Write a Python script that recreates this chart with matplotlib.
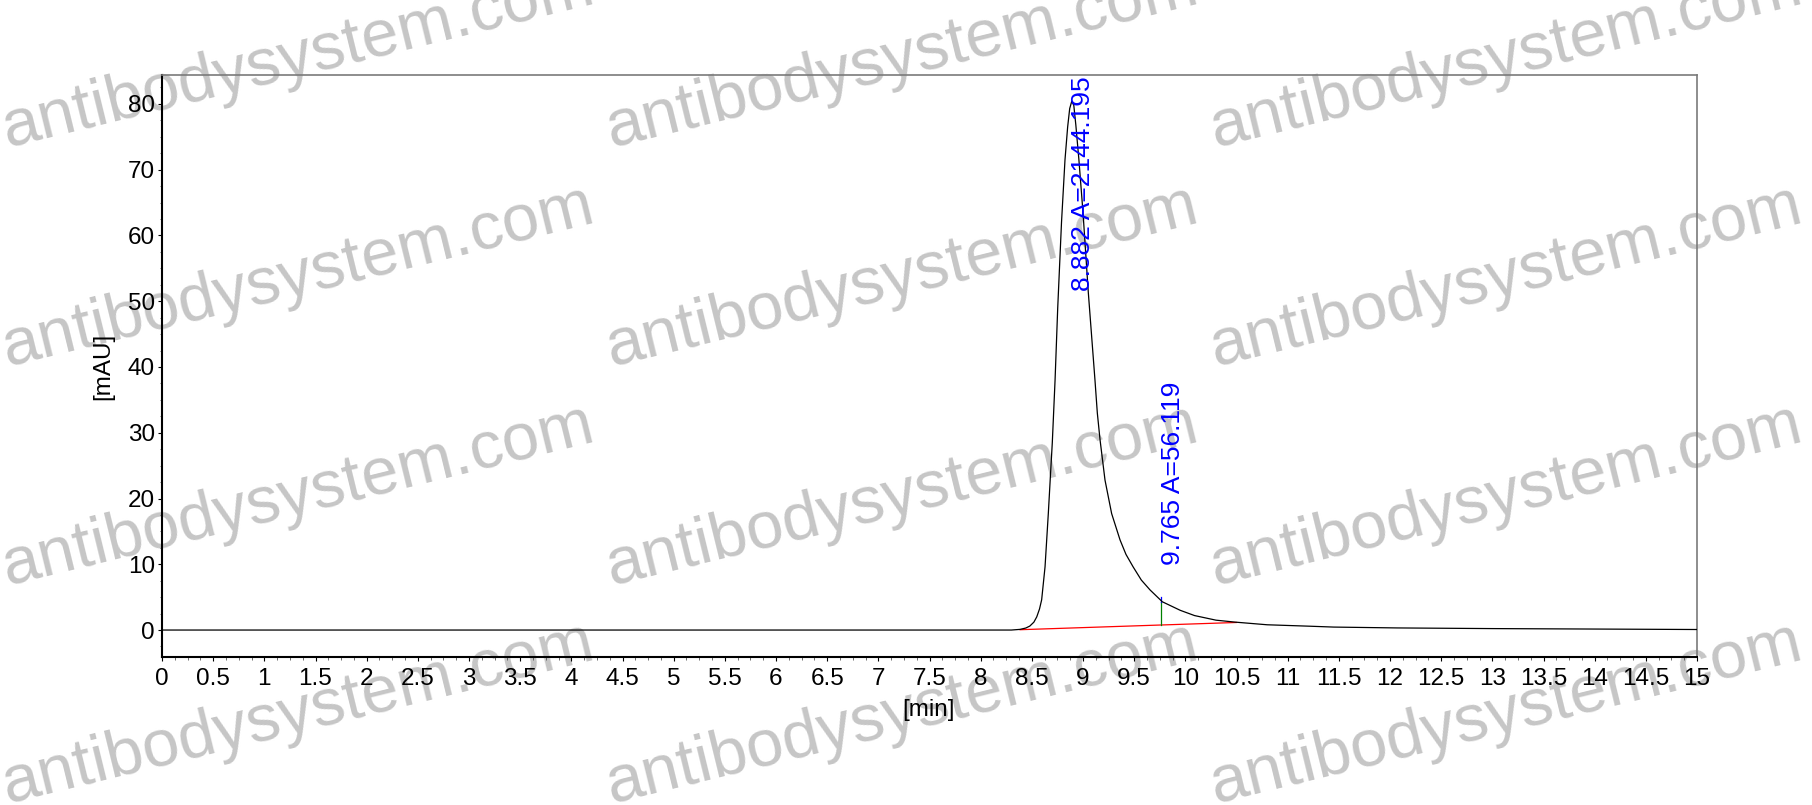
import matplotlib
matplotlib.use("Agg")
import matplotlib.pyplot as plt
from matplotlib.ticker import MultipleLocator, FuncFormatter

plt.rcParams['font.family'] = ['Liberation Sans', 'DejaVu Sans']

# chromatogram trace (time in min, signal in mAU)
time_min = [0.0, 8.30, 8.384, 8.44, 8.48, 8.52, 8.548, 8.575, 8.596, 8.629,
            8.661, 8.68, 8.70, 8.727, 8.753, 8.79, 8.824, 8.85, 8.87, 8.89,
            8.91, 8.93, 8.96, 9.00, 9.052, 9.117, 9.14, 9.166, 9.215, 9.28,
            9.362, 9.42, 9.49, 9.57, 9.655, 9.775, 9.95, 10.09, 10.30, 10.49,
            10.80, 11.22, 11.45, 12.07, 13.0, 14.0, 15.0]
signal_mau = [0.0, 0.0, 0.1, 0.3, 0.6, 1.2, 2.0, 3.2, 4.6, 9.6,
              17.7, 23.0, 28.5, 38.0, 49.0, 62.0, 71.5, 76.5, 79.3, 80.4,
              79.8, 76.8, 71.5, 63.5, 51.3, 38.0, 33.0, 29.0, 22.8, 17.7,
              13.7, 11.5, 9.6, 7.6, 6.1, 4.3, 3.0, 2.2, 1.5, 1.2,
              0.8, 0.58, 0.45, 0.32, 0.22, 0.15, 0.08]

# integration baseline (red) and peak marks
baseline_t = [8.385, 10.50]
baseline_v = [0.05, 1.15]
peak_rt = [8.882, 9.765]
peak_area = [2144.195, 56.119]
drop_t = 9.765
drop_lo = 0.77
drop_hi = 4.3

W, H = 1812, 805
fig = plt.figure(figsize=(W / 100, H / 100), dpi=100)
ax = fig.add_axes([162 / W, 1 - 657 / H, (1697 - 162) / W, (657 - 75) / H])
ax.set_zorder(1)
ax.patch.set_alpha(0)

# watermark grid
for cx in [7, 611, 1215]:
    for cy in [147, 366, 585, 803]:
        fig.text(cx / W, 1 - cy / H, "antibodysystem.com", fontsize=48,
                 color='#c6c6c6', rotation=13.8, rotation_mode='anchor',
                 ha='left', va='baseline', zorder=0)

ax.plot(time_min, signal_mau, color='black', lw=0.9, zorder=3)
ax.plot(baseline_t, baseline_v, color='red', lw=0.9, zorder=2)
ax.plot([drop_t, drop_t], [drop_lo, drop_hi], color='green', lw=0.9, zorder=2)
ax.plot([drop_t, drop_t], [drop_hi, drop_hi + 0.7], color='blue', lw=0.9, zorder=2)

ax.text(peak_rt[0], 84.2, f"{peak_rt[0]:.3f} A={peak_area[0]:.3f}", rotation=90,
        ha='left', va='top', color='blue', fontsize=19, zorder=4)
ax.text(peak_rt[1], 9.9, f"{peak_rt[1]:.3f} A={peak_area[1]:.3f}", rotation=90,
        ha='left', va='bottom', color='blue', fontsize=19, zorder=4)

ax.set_xlim(0, 15)
ax.set_ylim(-4.1, 84.4)
ax.xaxis.set_major_locator(MultipleLocator(0.5))
ax.xaxis.set_minor_locator(MultipleLocator(0.125))
ax.yaxis.set_major_locator(MultipleLocator(10))
ax.yaxis.set_minor_locator(MultipleLocator(2.5))
ax.xaxis.set_major_formatter(FuncFormatter(lambda v, p: f"{v:g}"))
ax.tick_params(axis='both', which='major', direction='out', length=3,
               width=0.8, labelsize=17.5, colors='black')
ax.tick_params(axis='both', which='minor', direction='out', length=1.8,
               width=0.6, colors='#555555')
ax.tick_params(axis='x', which='major', pad=5)
ax.tick_params(axis='y', which='major', pad=2)

for side in ['left', 'bottom']:
    ax.spines[side].set_linewidth(1.5)
    ax.spines[side].set_color('black')
for side in ['top', 'right']:
    ax.spines[side].set_linewidth(1.2)
    ax.spines[side].set_color('#7a7a7a')

fig.text(103 / W, 1 - 366 / H, "[mAU]", rotation=90, ha='center', va='center',
         fontsize=17.5)
fig.text(929 / W, 1 - 710 / H, "[min]", ha='center', va='center', fontsize=17.5)

fig.savefig("out.png", dpi=100)
